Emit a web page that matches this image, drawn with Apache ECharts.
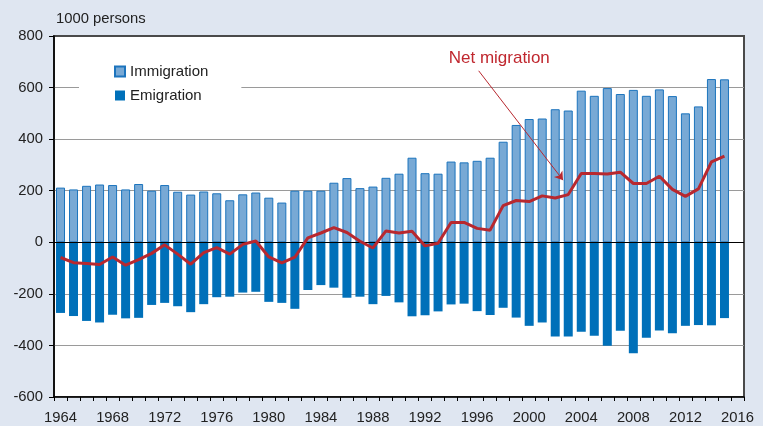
<!DOCTYPE html>
<html>
<head>
<meta charset="utf-8">
<script src="https://cdn.jsdelivr.net/npm/echarts@6/dist/echarts.min.js"></script>
<style>
html,body{margin:0;padding:0;background:#dfe6f1;}
#chart{width:763px;height:426px;}
</style>
</head>
<body>
<div id="chart"></div>
<script>
var years = [];
for (var y = 1964; y <= 2016; y++) years.push(String(y));

var immigration = [212,205,219,224,222,205,226,200,222,196,185,197,190,163,186,193,173,154,200,200,
  200,231,249,210,216,250,266,328,268,266,313,310,316,328,390,455,478,480,516,511,
  588,568,598,575,591,568,593,567,500,527,633,632,null];
var emigration = [-274,-286,-305,-311,-281,-295,-293,-243,-235,-248,-271,-240,-213,-211,-195,-192,-231,-235,-258,-185,
  -166,-176,-215,-211,-240,-208,-233,-287,-283,-268,-241,-238,-267,-282,-254,-292,-324,-311,-365,-365,
  -347,-362,-401,-343,-430,-370,-342,-353,-324,-321,-322,-294,null];
var netMigration = [-59,-79,-82,-86,-57,-89,-67,-43,-10,-46,-85,-40,-21,-46,-8,5,-57,-80,-58,17,
  36,57,38,4,-22,44,36,43,-14,-4,77,77,54,47,142,162,158,180,172,185,
  267,267,265,272,228,228,256,205,178,207,312,334,null];
var yTicks = [-600,-400,-200,0,200,400,600,800];

var FONT = 'Liberation Sans, Arial, sans-serif';
var chart = echarts.init(document.getElementById('chart'));
chart.setOption({
  animation: false,
  backgroundColor: '#dfe6f1',
  textStyle: {fontFamily: FONT},
  grid: {left: 54, top: 36, width: 690, height: 361, show: true, backgroundColor: '#ffffff',
         borderColor: '#4a4a4a', borderWidth: 2},
  legend: {
    data: ['Immigration', 'Emigration'],
    orient: 'vertical', left: 79, top: 53, icon: 'rect',
    padding: [10, 33, 4, 35], itemGap: 7, itemWidth: 10, itemHeight: 10,
    backgroundColor: '#ffffff',
    textStyle: {fontSize: 15, color: '#222', fontFamily: FONT, lineHeight: 17},
    selectedMode: false
  },
  xAxis: [{
    type: 'category', data: years, boundaryGap: true,
    axisLine: {onZero: false, lineStyle: {color: '#000', width: 1.5}},
    axisTick: {show: true, interval: 0, length: 4, inside: false, lineStyle: {color: '#000'}},
    axisLabel: {interval: 3, margin: 13, fontSize: 14.8, color: '#222', fontFamily: FONT},
    splitLine: {show: false}
  }, {
    type: 'value', min: -0.5, max: 52.5, show: false
  }],
  yAxis: {
    type: 'value', min: yTicks[0], max: yTicks[yTicks.length - 1], interval: 200,
    name: '1000 persons', nameLocation: 'end', nameGap: 10,
    nameTextStyle: {align: 'left', fontSize: 14.8, color: '#222', fontFamily: FONT, padding: [0, 0, 0, 2]},
    axisLine: {show: true, onZero: false, lineStyle: {color: '#000', width: 1.5}},
    axisTick: {show: true, length: 5, lineStyle: {color: '#000'}},
    axisLabel: {margin: 11, fontSize: 14.8, color: '#222', fontFamily: FONT},
    splitLine: {show: true, lineStyle: {color: ['#9a9a9a','#9a9a9a','#9a9a9a','#9a9a9a','#9a9a9a','#9a9a9a','#9a9a9a','#4a4a4a'], width: 1}}
  },
  series: [
    {
      name: 'Immigration', type: 'bar', data: immigration, barWidth: 9, barGap: '-100%',
      itemStyle: {color: '#78a9d5', borderColor: '#1c74bd', borderWidth: 1}
    },
    {
      name: 'Emigration', type: 'bar', data: emigration, barWidth: 9,
      itemStyle: {color: '#0070b9'},
      markLine: {silent: true, symbol: 'none', label: {show: false},
        lineStyle: {color: '#000', width: 1, type: 'solid'},
        data: [{yAxis: 0}]}
    },
    {
      name: 'Net migration', type: 'line', data: netMigration, symbol: 'none', z: 5,
      lineStyle: {color: '#b8282f', width: 3}, itemStyle: {color: '#b8282f'}
    },
    {
      name: 'annotation', type: 'line', xAxisIndex: 1, data: [], z: 6,
      markLine: {
        silent: true, symbol: ['none', 'arrow'], symbolSize: 8,
        label: {show: false},
        lineStyle: {color: '#b8282f', width: 1, type: 'solid'},
        data: [[{coord: [32.12, 665]}, {coord: [38.6, 241]}]]
      },
      markPoint: {
        silent: true, symbol: 'rect', symbolSize: 0,
        label: {show: true, position: 'inside', formatter: 'Net migration', fontSize: 17,
                color: '#c0282f', fontFamily: FONT},
        data: [{coord: [33.7, 715]}]
      }
    }
  ]
});
</script>
</body>
</html>
